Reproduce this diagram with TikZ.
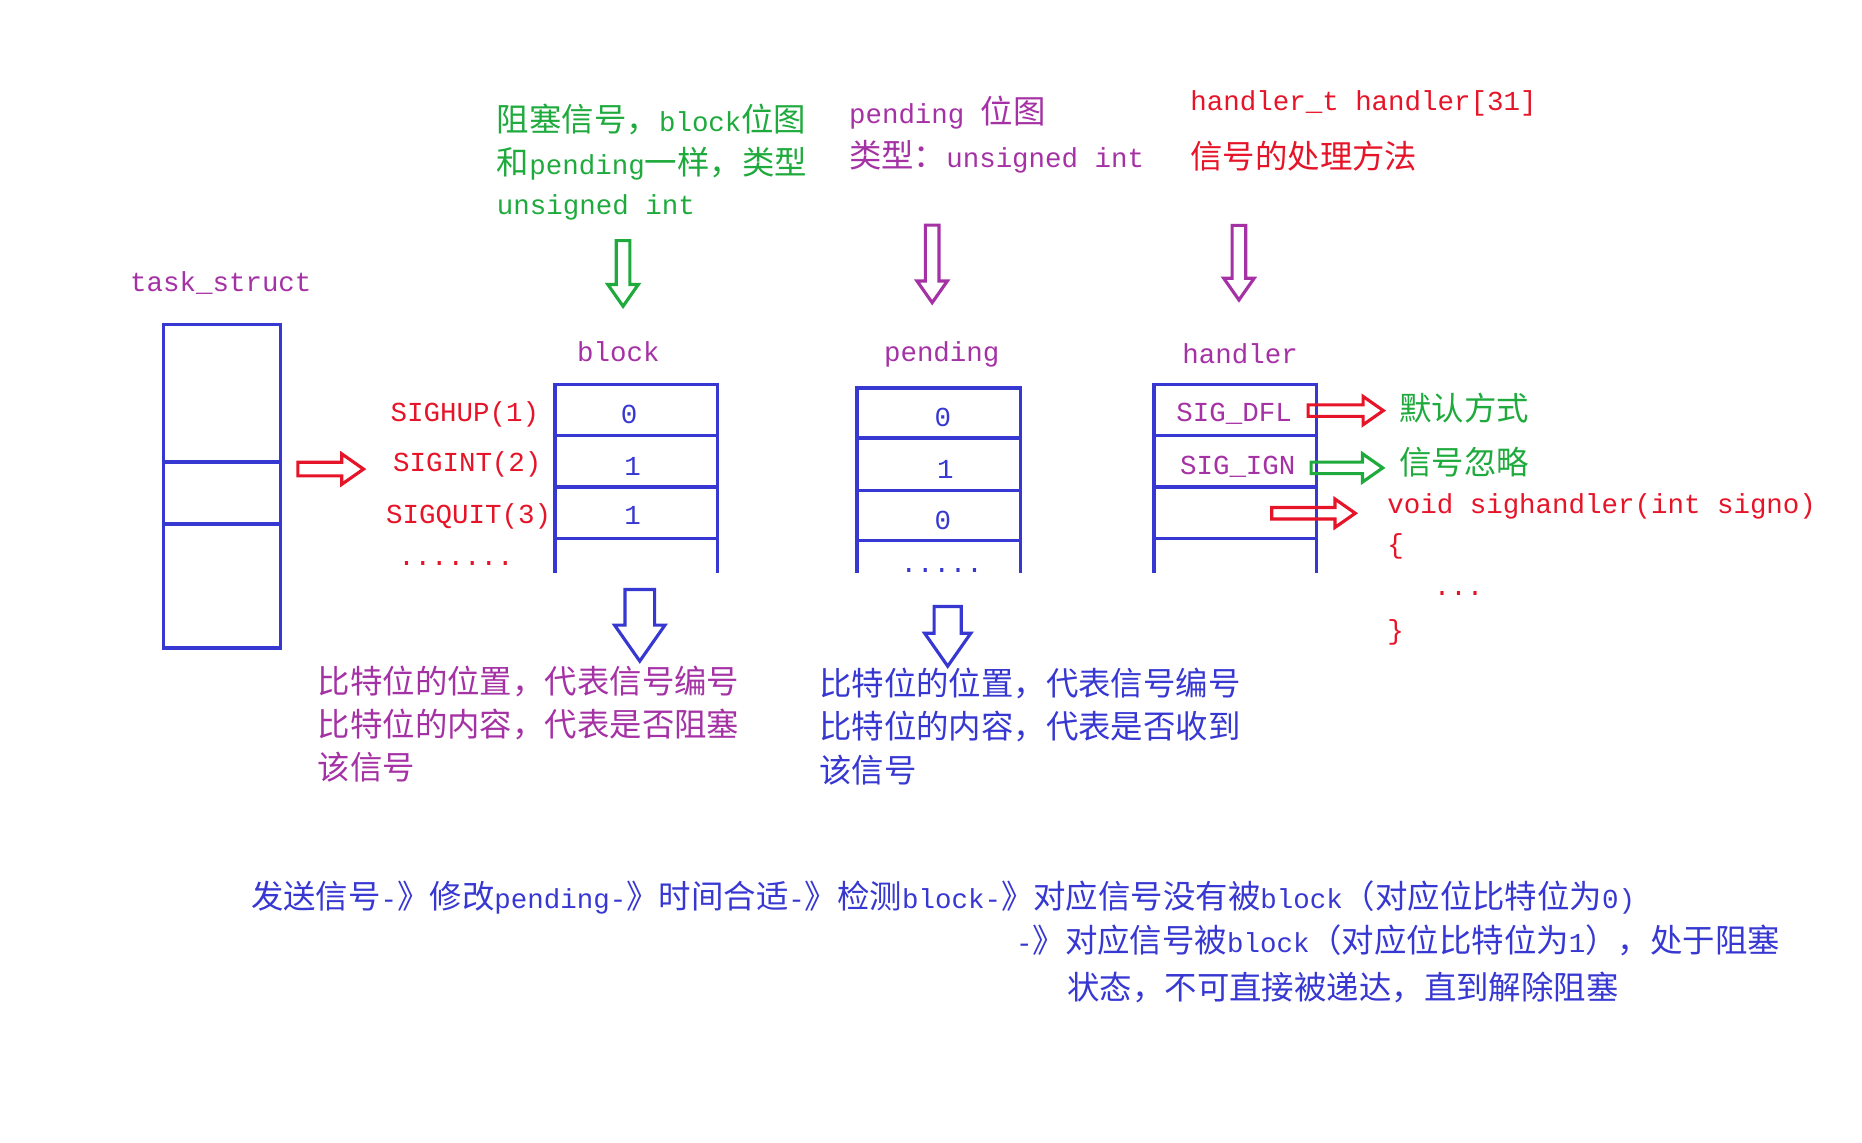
\documentclass[tikz,border=0pt]{standalone}
\usepackage{fontspec}
\setmainfont{Liberation Mono}
\newfontfamily\cjk[Scale=1.18]{Noto Sans CJK SC}
\newcommand\zh[1]{{\cjk #1}}
\usetikzlibrary{shapes.arrows}
\definecolor{cb}{RGB}{55,55,210}
\definecolor{cr}{RGB}{230,20,40}
\definecolor{cg}{RGB}{30,170,60}
\definecolor{cp}{RGB}{165,50,165}
\begin{document}
\fontsize{13.1pt}{16pt}\selectfont
\begin{tikzpicture}[x=0.02cm,y=-0.02cm,
 box/.style={draw=cb,line width=1.7pt},
 t/.style={inner sep=0pt,anchor=west},
 c/.style={inner sep=0pt},
 ha/.style={single arrow,draw=#1,line width=1.5pt,inner xsep=0pt,inner ysep=2.5pt,minimum width=14pt,single arrow head extend=4pt,single arrow tip angle=70},
]
\useasboundingbox (0,0) rectangle (1560,957);
% task_struct
\node[c,text=cp] (tsl) at (185,237) {task\_struct};
\draw[box] (137,272) rectangle (235,543);
\draw[box] (137,387) -- (235,387) (137,439) -- (235,439);
\node[ha=cr,minimum height=1.1cm] (a0) at (273,393) {};
% block
\node[c,text=cp] (bl) at (518,295) {block};
\draw[box] (465,480) -- (465,322) -- (601,322) -- (601,480);
\draw[box] (465,365) -- (601,365) (465,408) -- (601,408) (465,451) -- (601,451);
\node[c,text=cb] (b1) at (527,347) {0};
\node[c,text=cb] (b2) at (530,391) {1};
\node[c,text=cb] (b3) at (530,432) {1};
\node[c,anchor=east,text=cr] (s1) at (452,347) {SIGHUP(1)};
\node[c,anchor=east,text=cr] (s2) at (454,389) {SIGINT(2)};
\node[c,anchor=east,text=cr] (s3) at (462,433) {SIGQUIT(3)};
\node[c,text=cr] (d1) at (382,472) {.......};
% pending
\node[c,text=cp] (pl) at (789,297) {pending};
\draw[box] (718,480) -- (718,325) -- (855,325) -- (855,480);
\draw[box] (718,367) -- (855,367) (718,411) -- (855,411) (718,453) -- (855,453);
\node[c,text=cb] (p1) at (790,350) {0};
\node[c,text=cb] (p2) at (792,393) {1};
\node[c,text=cb] (p3) at (790,436) {0};
\node[c,text=cb] (d2) at (789,478) {.....};
% handler
\node[c,text=cp] (hl) at (1039,296) {handler};
\draw[box] (967,480) -- (967,322) -- (1103,322) -- (1103,480);
\draw[box] (967,365) -- (1103,365) (967,408) -- (1103,408) (967,451) -- (1103,451);
\node[c,text=cp] (h1) at (1034,347) {SIG\_DFL};
\node[c,text=cp] (h2) at (1037,391) {SIG\_IGN};
\node[ha=cr,minimum height=1.26cm,minimum width=12pt,inner ysep=2pt] (a1) at (1124,344) {};
\node[ha=cg,minimum height=1.2cm,minimum width=12pt,inner ysep=2pt] (a2) at (1125,392) {};
\node[ha=cr,minimum height=1.4cm,minimum width=12pt,inner ysep=2pt] (a3) at (1097,430) {};
\node[t,text=cg] (m1) at (1172,342) {\zh{默认方式}};
\node[t,text=cg] (m2) at (1172,387) {\zh{信号忽略}};
\node[t,text=cr] (v1) at (1162,424) {void sighandler(int signo)};
\node[t,text=cr] (v2) at (1162,458) {\{};
\node[c,text=cr] (v3) at (1222,497) {...};
\node[t,text=cr] (v4) at (1162,530) {\}};
% top texts
\node[t,text=cg] (g1) at (416,100) {\zh{阻塞信号，}block\zh{位图}};
\node[t,text=cg] (g2) at (416,137) {\zh{和}pending\zh{一样，类型}};
\node[t,text=cg] (g3) at (416,174) {unsigned int};
\node[ha=cg,rotate=-90,minimum height=1.1cm] (ga) at (522,225) {};
\node[t,text=cp] (q1) at (711,94) {pending \zh{位图}};
\node[t,text=cp] (q2) at (711,131) {\zh{类型：}unsigned int};
\node[ha=cp,rotate=-90,minimum height=1.3cm] (qa) at (781,217) {};
\node[t,text=cr] (r1) at (997,87) {handler\_t handler[31]};
\node[t,text=cr] (r2) at (997,131) {\zh{信号的处理方法}};
\node[ha=cp,rotate=-90,minimum height=1.25cm] (ra) at (1038,216) {};
% bottom arrows
\node[ha=cb,rotate=-90,minimum height=1.2cm,minimum width=24pt,inner ysep=5pt] (ba) at (536,515) {};
\node[ha=cb,rotate=-90,minimum height=1.0cm,minimum width=22pt,inner ysep=5pt] (pa) at (794,525) {};
\node[t,text=cp] (e1) at (266,571) {\zh{比特位的位置，代表信号编号}};
\node[t,text=cp] (e2) at (266,607) {\zh{比特位的内容，代表是否阻塞}};
\node[t,text=cp] (e3) at (266,643) {\zh{该信号}};
\node[t,text=cb] (f1) at (686,573) {\zh{比特位的位置，代表信号编号}};
\node[t,text=cb] (f2) at (686,609) {\zh{比特位的内容，代表是否收到}};
\node[t,text=cb] (f3) at (686,645) {\zh{该信号}};
\node[t,text=cb] (z1) at (210,752) {\zh{发送信号}-\zh{》修改}pending-\zh{》时间合适}-\zh{》检测}block-\zh{》对应信号没有被}block\zh{（对应位比特位为}0)};
\node[t,text=cb] (z2) at (851,788) {-\zh{》对应信号被}block\zh{（对应位比特位为}1\zh{），处于阻塞}};
\node[t,text=cb] (z3) at (894,827) {\zh{状态，不可直接被递达，直到解除阻塞}};
\end{tikzpicture}
\end{document}
